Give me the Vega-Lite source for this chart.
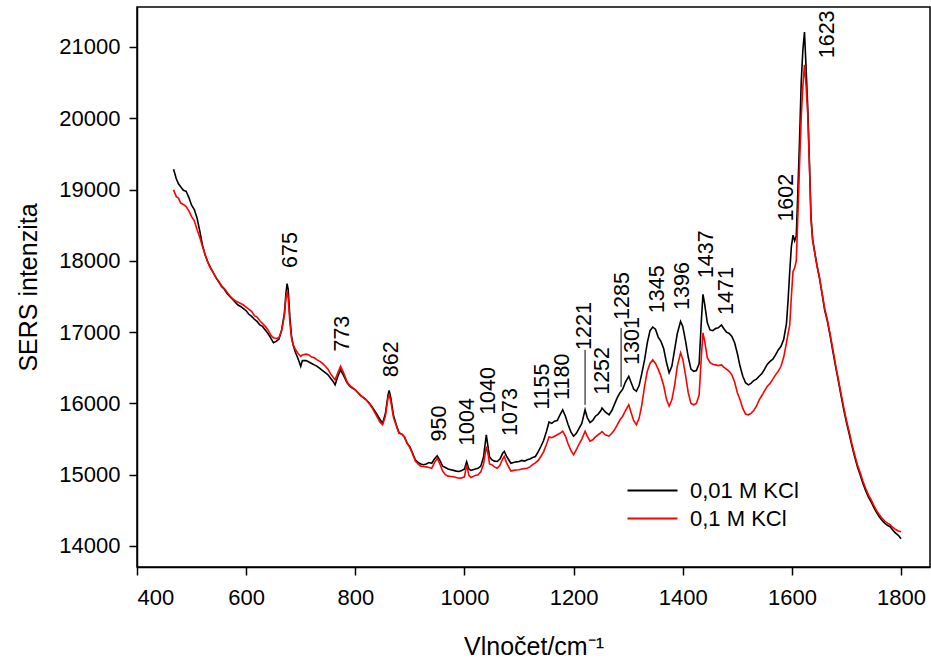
{
  "$schema": "https://vega.github.io/schema/vega-lite/v6.json",
  "width": 793,
  "height": 560,
  "autosize": {"type": "none"},
  "padding": {"left": 137, "top": 7, "right": 1, "bottom": 97},
  "background": "white",
  "config": {
    "font": "Liberation Sans",
    "view": {"stroke": "black", "strokeWidth": 1.5},
    "axis": {
      "grid": false,
      "domainColor": "black",
      "domainWidth": 1.5,
      "tickColor": "black",
      "tickWidth": 1.5,
      "tickSize": 8,
      "labelColor": "black",
      "labelFontSize": 22,
      "labelFont": "Liberation Sans",
      "titleFont": "Liberation Sans",
      "titleFontWeight": "normal",
      "titleFontSize": 25,
      "titleColor": "black",
      "format": "d"
    }
  },
  "datasets": {
    "spec": [
      {"x":467,"0,01 M KCl":19285,"0,1 M KCl":18995},
      {"x":472,"0,01 M KCl":19150,"0,1 M KCl":18900},
      {"x":476,"0,01 M KCl":19080,"0,1 M KCl":18880},
      {"x":480,"0,01 M KCl":19040,"0,1 M KCl":18810},
      {"x":485,"0,01 M KCl":18990,"0,1 M KCl":18790},
      {"x":490,"0,01 M KCl":18975,"0,1 M KCl":18760},
      {"x":495,"0,01 M KCl":18890,"0,1 M KCl":18700},
      {"x":500,"0,01 M KCl":18780,"0,1 M KCl":18620},
      {"x":505,"0,01 M KCl":18720,"0,1 M KCl":18560},
      {"x":510,"0,01 M KCl":18600,"0,1 M KCl":18440},
      {"x":515,"0,01 M KCl":18420,"0,1 M KCl":18330},
      {"x":520,"0,01 M KCl":18220,"0,1 M KCl":18200},
      {"x":525,"0,01 M KCl":18080,"0,1 M KCl":18080},
      {"x":530,"0,01 M KCl":17980,"0,1 M KCl":17970},
      {"x":535,"0,01 M KCl":17900,"0,1 M KCl":17890},
      {"x":540,"0,01 M KCl":17830,"0,1 M KCl":17830},
      {"x":545,"0,01 M KCl":17760,"0,1 M KCl":17760},
      {"x":550,"0,01 M KCl":17700,"0,1 M KCl":17710},
      {"x":555,"0,01 M KCl":17640,"0,1 M KCl":17650},
      {"x":560,"0,01 M KCl":17600,"0,1 M KCl":17610},
      {"x":565,"0,01 M KCl":17540,"0,1 M KCl":17560},
      {"x":570,"0,01 M KCl":17500,"0,1 M KCl":17510},
      {"x":575,"0,01 M KCl":17460,"0,1 M KCl":17470},
      {"x":580,"0,01 M KCl":17420,"0,1 M KCl":17440},
      {"x":585,"0,01 M KCl":17380,"0,1 M KCl":17420},
      {"x":590,"0,01 M KCl":17360,"0,1 M KCl":17400},
      {"x":595,"0,01 M KCl":17330,"0,1 M KCl":17380},
      {"x":600,"0,01 M KCl":17300,"0,1 M KCl":17350},
      {"x":605,"0,01 M KCl":17250,"0,1 M KCl":17320},
      {"x":610,"0,01 M KCl":17220,"0,1 M KCl":17290},
      {"x":615,"0,01 M KCl":17180,"0,1 M KCl":17230},
      {"x":620,"0,01 M KCl":17150,"0,1 M KCl":17210},
      {"x":625,"0,01 M KCl":17100,"0,1 M KCl":17160},
      {"x":630,"0,01 M KCl":17080,"0,1 M KCl":17120},
      {"x":635,"0,01 M KCl":17030,"0,1 M KCl":17080},
      {"x":640,"0,01 M KCl":16980,"0,1 M KCl":17030},
      {"x":645,"0,01 M KCl":16920,"0,1 M KCl":16960},
      {"x":650,"0,01 M KCl":16850,"0,1 M KCl":16920},
      {"x":655,"0,01 M KCl":16870,"0,1 M KCl":16910},
      {"x":660,"0,01 M KCl":16900,"0,1 M KCl":16920},
      {"x":665,"0,01 M KCl":17030,"0,1 M KCl":17020},
      {"x":670,"0,01 M KCl":17260,"0,1 M KCl":17230},
      {"x":673,"0,01 M KCl":17550,"0,1 M KCl":17480},
      {"x":675,"0,01 M KCl":17680,"0,1 M KCl":17570},
      {"x":677,"0,01 M KCl":17600,"0,1 M KCl":17480},
      {"x":680,"0,01 M KCl":17220,"0,1 M KCl":17150},
      {"x":683,"0,01 M KCl":16950,"0,1 M KCl":16920},
      {"x":686,"0,01 M KCl":16820,"0,1 M KCl":16830},
      {"x":690,"0,01 M KCl":16720,"0,1 M KCl":16760},
      {"x":695,"0,01 M KCl":16630,"0,1 M KCl":16700},
      {"x":700,"0,01 M KCl":16520,"0,1 M KCl":16660},
      {"x":703,"0,01 M KCl":16600,"0,1 M KCl":16680},
      {"x":710,"0,01 M KCl":16600,"0,1 M KCl":16690},
      {"x":715,"0,01 M KCl":16580,"0,1 M KCl":16680},
      {"x":720,"0,01 M KCl":16560,"0,1 M KCl":16650},
      {"x":725,"0,01 M KCl":16540,"0,1 M KCl":16640},
      {"x":730,"0,01 M KCl":16520,"0,1 M KCl":16610},
      {"x":735,"0,01 M KCl":16490,"0,1 M KCl":16590},
      {"x":740,"0,01 M KCl":16460,"0,1 M KCl":16560},
      {"x":745,"0,01 M KCl":16430,"0,1 M KCl":16520},
      {"x":750,"0,01 M KCl":16400,"0,1 M KCl":16480},
      {"x":755,"0,01 M KCl":16350,"0,1 M KCl":16410},
      {"x":760,"0,01 M KCl":16300,"0,1 M KCl":16360},
      {"x":763,"0,01 M KCl":16260,"0,1 M KCl":16330},
      {"x":768,"0,01 M KCl":16380,"0,1 M KCl":16430},
      {"x":773,"0,01 M KCl":16470,"0,1 M KCl":16520},
      {"x":778,"0,01 M KCl":16400,"0,1 M KCl":16440},
      {"x":785,"0,01 M KCl":16290,"0,1 M KCl":16300},
      {"x":790,"0,01 M KCl":16240,"0,1 M KCl":16250},
      {"x":795,"0,01 M KCl":16210,"0,1 M KCl":16220},
      {"x":800,"0,01 M KCl":16190,"0,1 M KCl":16190},
      {"x":805,"0,01 M KCl":16150,"0,1 M KCl":16150},
      {"x":810,"0,01 M KCl":16110,"0,1 M KCl":16110},
      {"x":815,"0,01 M KCl":16080,"0,1 M KCl":16080},
      {"x":820,"0,01 M KCl":16050,"0,1 M KCl":16050},
      {"x":825,"0,01 M KCl":16010,"0,1 M KCl":16000},
      {"x":830,"0,01 M KCl":15960,"0,1 M KCl":15950},
      {"x":835,"0,01 M KCl":15900,"0,1 M KCl":15880},
      {"x":840,"0,01 M KCl":15840,"0,1 M KCl":15810},
      {"x":845,"0,01 M KCl":15780,"0,1 M KCl":15740},
      {"x":850,"0,01 M KCl":15720,"0,1 M KCl":15700},
      {"x":855,"0,01 M KCl":15850,"0,1 M KCl":15820},
      {"x":860,"0,01 M KCl":16120,"0,1 M KCl":16080},
      {"x":862,"0,01 M KCl":16180,"0,1 M KCl":16120},
      {"x":865,"0,01 M KCl":16080,"0,1 M KCl":16030},
      {"x":870,"0,01 M KCl":15830,"0,1 M KCl":15800},
      {"x":875,"0,01 M KCl":15700,"0,1 M KCl":15690},
      {"x":880,"0,01 M KCl":15590,"0,1 M KCl":15580},
      {"x":885,"0,01 M KCl":15570,"0,1 M KCl":15570},
      {"x":890,"0,01 M KCl":15530,"0,1 M KCl":15530},
      {"x":895,"0,01 M KCl":15440,"0,1 M KCl":15440},
      {"x":900,"0,01 M KCl":15390,"0,1 M KCl":15380},
      {"x":905,"0,01 M KCl":15300,"0,1 M KCl":15290},
      {"x":910,"0,01 M KCl":15210,"0,1 M KCl":15190},
      {"x":915,"0,01 M KCl":15170,"0,1 M KCl":15150},
      {"x":920,"0,01 M KCl":15150,"0,1 M KCl":15120},
      {"x":925,"0,01 M KCl":15140,"0,1 M KCl":15115},
      {"x":930,"0,01 M KCl":15150,"0,1 M KCl":15110},
      {"x":935,"0,01 M KCl":15170,"0,1 M KCl":15100},
      {"x":940,"0,01 M KCl":15160,"0,1 M KCl":15090},
      {"x":945,"0,01 M KCl":15220,"0,1 M KCl":15170},
      {"x":950,"0,01 M KCl":15265,"0,1 M KCl":15230},
      {"x":955,"0,01 M KCl":15200,"0,1 M KCl":15150},
      {"x":960,"0,01 M KCl":15120,"0,1 M KCl":15050},
      {"x":965,"0,01 M KCl":15100,"0,1 M KCl":15000},
      {"x":970,"0,01 M KCl":15080,"0,1 M KCl":14980},
      {"x":975,"0,01 M KCl":15070,"0,1 M KCl":14975},
      {"x":980,"0,01 M KCl":15060,"0,1 M KCl":14970},
      {"x":985,"0,01 M KCl":15050,"0,1 M KCl":14960},
      {"x":990,"0,01 M KCl":15045,"0,1 M KCl":14950},
      {"x":995,"0,01 M KCl":15060,"0,1 M KCl":14955},
      {"x":1000,"0,01 M KCl":15080,"0,1 M KCl":14970},
      {"x":1004,"0,01 M KCl":15180,"0,1 M KCl":15140},
      {"x":1008,"0,01 M KCl":15080,"0,1 M KCl":14990},
      {"x":1012,"0,01 M KCl":15060,"0,1 M KCl":14960},
      {"x":1020,"0,01 M KCl":15080,"0,1 M KCl":14990},
      {"x":1025,"0,01 M KCl":15090,"0,1 M KCl":15000},
      {"x":1030,"0,01 M KCl":15120,"0,1 M KCl":15040},
      {"x":1035,"0,01 M KCl":15250,"0,1 M KCl":15150},
      {"x":1040,"0,01 M KCl":15560,"0,1 M KCl":15395},
      {"x":1043,"0,01 M KCl":15400,"0,1 M KCl":15300},
      {"x":1046,"0,01 M KCl":15250,"0,1 M KCl":15150},
      {"x":1050,"0,01 M KCl":15210,"0,1 M KCl":15140},
      {"x":1055,"0,01 M KCl":15190,"0,1 M KCl":15110},
      {"x":1060,"0,01 M KCl":15185,"0,1 M KCl":15090},
      {"x":1065,"0,01 M KCl":15220,"0,1 M KCl":15130},
      {"x":1070,"0,01 M KCl":15300,"0,1 M KCl":15220},
      {"x":1073,"0,01 M KCl":15325,"0,1 M KCl":15255},
      {"x":1077,"0,01 M KCl":15260,"0,1 M KCl":15170},
      {"x":1085,"0,01 M KCl":15160,"0,1 M KCl":15050},
      {"x":1090,"0,01 M KCl":15170,"0,1 M KCl":15060},
      {"x":1095,"0,01 M KCl":15180,"0,1 M KCl":15065},
      {"x":1100,"0,01 M KCl":15185,"0,1 M KCl":15070},
      {"x":1105,"0,01 M KCl":15200,"0,1 M KCl":15080},
      {"x":1110,"0,01 M KCl":15190,"0,1 M KCl":15085},
      {"x":1115,"0,01 M KCl":15210,"0,1 M KCl":15090},
      {"x":1120,"0,01 M KCl":15220,"0,1 M KCl":15110},
      {"x":1125,"0,01 M KCl":15240,"0,1 M KCl":15140},
      {"x":1130,"0,01 M KCl":15255,"0,1 M KCl":15165},
      {"x":1135,"0,01 M KCl":15320,"0,1 M KCl":15200},
      {"x":1140,"0,01 M KCl":15395,"0,1 M KCl":15255},
      {"x":1145,"0,01 M KCl":15480,"0,1 M KCl":15320},
      {"x":1150,"0,01 M KCl":15600,"0,1 M KCl":15420},
      {"x":1155,"0,01 M KCl":15740,"0,1 M KCl":15530},
      {"x":1160,"0,01 M KCl":15720,"0,1 M KCl":15520},
      {"x":1165,"0,01 M KCl":15750,"0,1 M KCl":15540},
      {"x":1170,"0,01 M KCl":15760,"0,1 M KCl":15560},
      {"x":1175,"0,01 M KCl":15840,"0,1 M KCl":15580},
      {"x":1180,"0,01 M KCl":15910,"0,1 M KCl":15610},
      {"x":1185,"0,01 M KCl":15820,"0,1 M KCl":15540},
      {"x":1190,"0,01 M KCl":15700,"0,1 M KCl":15430},
      {"x":1195,"0,01 M KCl":15600,"0,1 M KCl":15340},
      {"x":1200,"0,01 M KCl":15540,"0,1 M KCl":15280},
      {"x":1205,"0,01 M KCl":15580,"0,1 M KCl":15350},
      {"x":1210,"0,01 M KCl":15650,"0,1 M KCl":15430},
      {"x":1215,"0,01 M KCl":15720,"0,1 M KCl":15500},
      {"x":1221,"0,01 M KCl":15910,"0,1 M KCl":15610},
      {"x":1225,"0,01 M KCl":15800,"0,1 M KCl":15540},
      {"x":1230,"0,01 M KCl":15730,"0,1 M KCl":15470},
      {"x":1235,"0,01 M KCl":15760,"0,1 M KCl":15490},
      {"x":1240,"0,01 M KCl":15820,"0,1 M KCl":15530},
      {"x":1245,"0,01 M KCl":15850,"0,1 M KCl":15560},
      {"x":1250,"0,01 M KCl":15900,"0,1 M KCl":15590},
      {"x":1252,"0,01 M KCl":15935,"0,1 M KCl":15605},
      {"x":1258,"0,01 M KCl":15880,"0,1 M KCl":15560},
      {"x":1265,"0,01 M KCl":15840,"0,1 M KCl":15540},
      {"x":1270,"0,01 M KCl":15900,"0,1 M KCl":15580},
      {"x":1275,"0,01 M KCl":15990,"0,1 M KCl":15630},
      {"x":1280,"0,01 M KCl":16080,"0,1 M KCl":15700},
      {"x":1285,"0,01 M KCl":16150,"0,1 M KCl":15770},
      {"x":1290,"0,01 M KCl":16200,"0,1 M KCl":15820},
      {"x":1295,"0,01 M KCl":16300,"0,1 M KCl":15900},
      {"x":1301,"0,01 M KCl":16380,"0,1 M KCl":15980},
      {"x":1305,"0,01 M KCl":16300,"0,1 M KCl":15880},
      {"x":1310,"0,01 M KCl":16200,"0,1 M KCl":15760},
      {"x":1315,"0,01 M KCl":16170,"0,1 M KCl":15700},
      {"x":1320,"0,01 M KCl":16250,"0,1 M KCl":15790},
      {"x":1325,"0,01 M KCl":16420,"0,1 M KCl":15980},
      {"x":1330,"0,01 M KCl":16610,"0,1 M KCl":16240},
      {"x":1335,"0,01 M KCl":16850,"0,1 M KCl":16450},
      {"x":1340,"0,01 M KCl":17020,"0,1 M KCl":16560},
      {"x":1345,"0,01 M KCl":17070,"0,1 M KCl":16610},
      {"x":1350,"0,01 M KCl":17040,"0,1 M KCl":16560},
      {"x":1355,"0,01 M KCl":16930,"0,1 M KCl":16480},
      {"x":1360,"0,01 M KCl":16870,"0,1 M KCl":16380},
      {"x":1365,"0,01 M KCl":16770,"0,1 M KCl":16250},
      {"x":1370,"0,01 M KCl":16580,"0,1 M KCl":16060},
      {"x":1375,"0,01 M KCl":16430,"0,1 M KCl":15960},
      {"x":1380,"0,01 M KCl":16520,"0,1 M KCl":16050},
      {"x":1385,"0,01 M KCl":16750,"0,1 M KCl":16250},
      {"x":1390,"0,01 M KCl":16980,"0,1 M KCl":16520},
      {"x":1396,"0,01 M KCl":17150,"0,1 M KCl":16710},
      {"x":1400,"0,01 M KCl":17080,"0,1 M KCl":16620},
      {"x":1405,"0,01 M KCl":16880,"0,1 M KCl":16400},
      {"x":1410,"0,01 M KCl":16650,"0,1 M KCl":16150},
      {"x":1415,"0,01 M KCl":16480,"0,1 M KCl":16000},
      {"x":1420,"0,01 M KCl":16450,"0,1 M KCl":15980},
      {"x":1425,"0,01 M KCl":16460,"0,1 M KCl":16000},
      {"x":1430,"0,01 M KCl":16560,"0,1 M KCl":16120},
      {"x":1434,"0,01 M KCl":17150,"0,1 M KCl":16650},
      {"x":1437,"0,01 M KCl":17530,"0,1 M KCl":16990},
      {"x":1440,"0,01 M KCl":17400,"0,1 M KCl":16880},
      {"x":1445,"0,01 M KCl":17130,"0,1 M KCl":16640},
      {"x":1450,"0,01 M KCl":17030,"0,1 M KCl":16570},
      {"x":1455,"0,01 M KCl":17020,"0,1 M KCl":16550},
      {"x":1460,"0,01 M KCl":17050,"0,1 M KCl":16540},
      {"x":1465,"0,01 M KCl":17060,"0,1 M KCl":16530},
      {"x":1471,"0,01 M KCl":17100,"0,1 M KCl":16540},
      {"x":1475,"0,01 M KCl":17050,"0,1 M KCl":16510},
      {"x":1480,"0,01 M KCl":17000,"0,1 M KCl":16480},
      {"x":1485,"0,01 M KCl":16980,"0,1 M KCl":16450},
      {"x":1490,"0,01 M KCl":16940,"0,1 M KCl":16400},
      {"x":1495,"0,01 M KCl":16850,"0,1 M KCl":16300},
      {"x":1500,"0,01 M KCl":16700,"0,1 M KCl":16150},
      {"x":1505,"0,01 M KCl":16520,"0,1 M KCl":16050},
      {"x":1510,"0,01 M KCl":16380,"0,1 M KCl":15930},
      {"x":1515,"0,01 M KCl":16290,"0,1 M KCl":15850},
      {"x":1520,"0,01 M KCl":16260,"0,1 M KCl":15840},
      {"x":1525,"0,01 M KCl":16280,"0,1 M KCl":15860},
      {"x":1530,"0,01 M KCl":16320,"0,1 M KCl":15900},
      {"x":1535,"0,01 M KCl":16340,"0,1 M KCl":15960},
      {"x":1540,"0,01 M KCl":16380,"0,1 M KCl":16050},
      {"x":1545,"0,01 M KCl":16420,"0,1 M KCl":16110},
      {"x":1550,"0,01 M KCl":16480,"0,1 M KCl":16180},
      {"x":1555,"0,01 M KCl":16550,"0,1 M KCl":16240},
      {"x":1560,"0,01 M KCl":16590,"0,1 M KCl":16280},
      {"x":1565,"0,01 M KCl":16620,"0,1 M KCl":16340},
      {"x":1570,"0,01 M KCl":16680,"0,1 M KCl":16400},
      {"x":1575,"0,01 M KCl":16750,"0,1 M KCl":16450},
      {"x":1580,"0,01 M KCl":16800,"0,1 M KCl":16520},
      {"x":1585,"0,01 M KCl":16900,"0,1 M KCl":16650},
      {"x":1590,"0,01 M KCl":17120,"0,1 M KCl":16850},
      {"x":1593,"0,01 M KCl":17450,"0,1 M KCl":16980},
      {"x":1596,"0,01 M KCl":17850,"0,1 M KCl":17100},
      {"x":1599,"0,01 M KCl":18200,"0,1 M KCl":17500},
      {"x":1602,"0,01 M KCl":18360,"0,1 M KCl":17850},
      {"x":1605,"0,01 M KCl":18280,"0,1 M KCl":17900},
      {"x":1608,"0,01 M KCl":18350,"0,1 M KCl":18000},
      {"x":1611,"0,01 M KCl":19000,"0,1 M KCl":18650},
      {"x":1614,"0,01 M KCl":19700,"0,1 M KCl":19350},
      {"x":1617,"0,01 M KCl":20500,"0,1 M KCl":20000},
      {"x":1620,"0,01 M KCl":20950,"0,1 M KCl":20450},
      {"x":1623,"0,01 M KCl":21210,"0,1 M KCl":20750},
      {"x":1626,"0,01 M KCl":20700,"0,1 M KCl":20450},
      {"x":1629,"0,01 M KCl":20150,"0,1 M KCl":20050},
      {"x":1632,"0,01 M KCl":19400,"0,1 M KCl":19350},
      {"x":1635,"0,01 M KCl":18620,"0,1 M KCl":18570},
      {"x":1638,"0,01 M KCl":18300,"0,1 M KCl":18280},
      {"x":1642,"0,01 M KCl":18110,"0,1 M KCl":18100},
      {"x":1646,"0,01 M KCl":17930,"0,1 M KCl":17930},
      {"x":1650,"0,01 M KCl":17780,"0,1 M KCl":17780},
      {"x":1655,"0,01 M KCl":17550,"0,1 M KCl":17560},
      {"x":1660,"0,01 M KCl":17310,"0,1 M KCl":17330},
      {"x":1665,"0,01 M KCl":17150,"0,1 M KCl":17170},
      {"x":1670,"0,01 M KCl":16950,"0,1 M KCl":16970},
      {"x":1675,"0,01 M KCl":16730,"0,1 M KCl":16760},
      {"x":1680,"0,01 M KCl":16520,"0,1 M KCl":16540},
      {"x":1685,"0,01 M KCl":16320,"0,1 M KCl":16340},
      {"x":1690,"0,01 M KCl":16110,"0,1 M KCl":16140},
      {"x":1695,"0,01 M KCl":15910,"0,1 M KCl":15940},
      {"x":1700,"0,01 M KCl":15730,"0,1 M KCl":15760},
      {"x":1705,"0,01 M KCl":15570,"0,1 M KCl":15600},
      {"x":1710,"0,01 M KCl":15400,"0,1 M KCl":15430},
      {"x":1715,"0,01 M KCl":15250,"0,1 M KCl":15280},
      {"x":1720,"0,01 M KCl":15110,"0,1 M KCl":15140},
      {"x":1725,"0,01 M KCl":15000,"0,1 M KCl":15030},
      {"x":1730,"0,01 M KCl":14880,"0,1 M KCl":14910},
      {"x":1735,"0,01 M KCl":14780,"0,1 M KCl":14810},
      {"x":1740,"0,01 M KCl":14690,"0,1 M KCl":14720},
      {"x":1745,"0,01 M KCl":14620,"0,1 M KCl":14650},
      {"x":1750,"0,01 M KCl":14540,"0,1 M KCl":14570},
      {"x":1755,"0,01 M KCl":14470,"0,1 M KCl":14500},
      {"x":1760,"0,01 M KCl":14410,"0,1 M KCl":14440},
      {"x":1765,"0,01 M KCl":14360,"0,1 M KCl":14390},
      {"x":1770,"0,01 M KCl":14320,"0,1 M KCl":14350},
      {"x":1775,"0,01 M KCl":14290,"0,1 M KCl":14320},
      {"x":1780,"0,01 M KCl":14270,"0,1 M KCl":14300},
      {"x":1785,"0,01 M KCl":14220,"0,1 M KCl":14260},
      {"x":1790,"0,01 M KCl":14180,"0,1 M KCl":14230},
      {"x":1795,"0,01 M KCl":14150,"0,1 M KCl":14210},
      {"x":1800,"0,01 M KCl":14100,"0,1 M KCl":14200}
    ],
    "labels": [
      {"label":"675","lx":683,"ly":17900},
      {"label":"773","lx":777,"ly":16727},
      {"label":"862","lx":867,"ly":16367},
      {"label":"950","lx":956,"ly":15465},
      {"label":"1004","lx":1006,"ly":15404},
      {"label":"1040","lx":1045,"ly":15839},
      {"label":"1073","lx":1085,"ly":15544},
      {"label":"1155","lx":1144,"ly":15909},
      {"label":"1180","lx":1181,"ly":16049},
      {"label":"1221","lx":1221,"ly":16750},
      {"label":"1252","lx":1253,"ly":16120},
      {"label":"1285","lx":1291,"ly":17171},
      {"label":"1301","lx":1309,"ly":16540},
      {"label":"1345","lx":1355,"ly":17265},
      {"label":"1396","lx":1401,"ly":17311},
      {"label":"1437","lx":1444,"ly":17756},
      {"label":"1471","lx":1481,"ly":17241},
      {"label":"1602","lx":1591,"ly":18550},
      {"label":"1623","lx":1666,"ly":20841}
    ],
    "leaders": [
      {"x":1221,"y1":16750,"y2":15979},
      {"x":1287,"y1":17059,"y2":16231}
    ]
  },
  "layer": [
    {
      "data": {"name": "spec"},
      "transform": [{"fold": ["0,01 M KCl", "0,1 M KCl"], "as": ["serie", "y"]}],
      "mark": {"type": "line", "strokeWidth": 1.6, "interpolate": "linear"},
      "encoding": {
        "x": {
          "field": "x", "type": "quantitative",
          "scale": {"domain": [400, 1853], "nice": false, "zero": false},
          "axis": {"values": [400, 600, 800, 1000, 1200, 1400, 1600, 1800], "labelPadding": 12, "title": "Vlnočet/cm⁻¹", "titlePadding": 26}
        },
        "y": {
          "field": "y", "type": "quantitative",
          "scale": {"domain": [13705, 21560], "nice": false, "zero": false},
          "axis": {"values": [14000, 15000, 16000, 17000, 18000, 19000, 20000, 21000], "labelPadding": 9, "title": "SERS intenzita", "titlePadding": 17}
        },
        "color": {
          "field": "serie", "type": "nominal",
          "scale": {"domain": ["0,01 M KCl", "0,1 M KCl"], "range": ["#000000", "#ff0000"]},
          "legend": {
            "title": null,
            "orient": "none",
            "legendX": 502,
            "legendY": 470,
            "symbolType": "M-2,0H2",
            "symbolSize": 625,
            "symbolStrokeWidth": 2,
            "labelFontSize": 22,
            "labelColor": "black",
            "labelOffset": 24,
            "rowPadding": 3
          }
        }
      }
    },
    {
      "data": {"name": "labels"},
      "mark": {"type": "text", "angle": 270, "align": "left", "baseline": "middle", "fontSize": 21.5, "font": "Liberation Sans", "color": "black"},
      "encoding": {
        "x": {"field": "lx", "type": "quantitative"},
        "y": {"field": "ly", "type": "quantitative"},
        "text": {"field": "label"}
      }
    },
    {
      "data": {"name": "leaders"},
      "mark": {"type": "rule", "color": "black", "strokeWidth": 1},
      "encoding": {
        "x": {"field": "x", "type": "quantitative"},
        "y": {"field": "y1", "type": "quantitative"},
        "y2": {"field": "y2"}
      }
    }
  ]
}
